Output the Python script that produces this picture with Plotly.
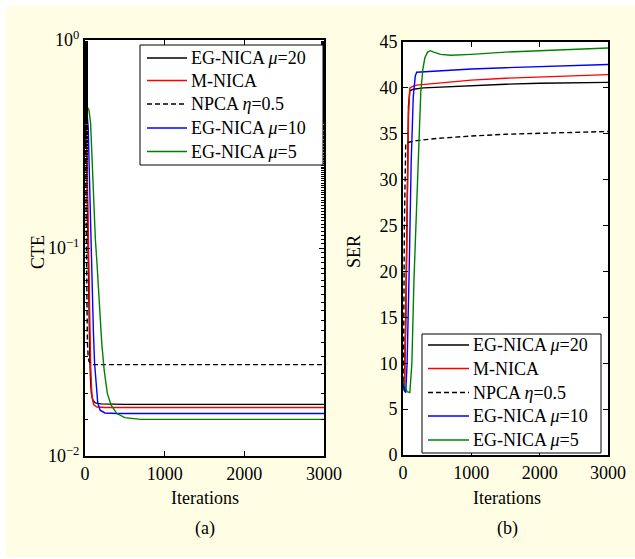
import plotly.graph_objects as go

W, H = 635, 559

names = ["EG-NICA <i>μ</i>=20", "M-NICA", "NPCA <i>η</i>=0.5", "EG-NICA <i>μ</i>=10", "EG-NICA <i>μ</i>=5"]
colors = ["#000000", "#FF0000", "#000000", "#0000FF", "#008000"]
dashes = ["solid", "solid", "5px,3px", "solid", "solid"]

# ---- (a) CTE ----
cte_x_mu20 = [0, 10, 20, 30, 40, 50, 60, 70, 80, 100, 130, 200, 500, 1000, 2000, 3000]
cte_y_mu20 = [0.50, 0.45, 0.30, 0.15, 0.08, 0.045, 0.030, 0.023, 0.020, 0.0185, 0.018, 0.0178, 0.0177, 0.0177, 0.0177, 0.0177]
cte_x_mnica = [0, 10, 20, 30, 40, 50, 60, 70, 80, 90, 110, 150, 250, 1000, 2000, 3000]
cte_y_mnica = [0.50, 0.47, 0.35, 0.20, 0.11, 0.065, 0.040, 0.028, 0.022, 0.019, 0.0176, 0.0172, 0.0171, 0.0171, 0.0171, 0.0171]
cte_x_npca = [0, 5, 10, 15, 20, 25, 30, 40, 50, 70, 100, 3000]
cte_y_npca = [0.50, 0.40, 0.25, 0.13, 0.07, 0.045, 0.035, 0.030, 0.0285, 0.028, 0.0275, 0.0275]
cte_x_mu10 = [0, 20, 40, 60, 75, 90, 105, 120, 140, 160, 190, 250, 400, 3000]
cte_y_mu10 = [0.50, 0.47, 0.38, 0.18, 0.10, 0.060, 0.040, 0.028, 0.021, 0.018, 0.0166, 0.0161, 0.0160, 0.0160]
cte_x_mu5 = [0, 20, 50, 70, 90, 110, 130, 150, 180, 210, 240, 280, 330, 400, 500, 700, 3000]
cte_y_mu5 = [0.50, 0.48, 0.46, 0.40, 0.25, 0.15, 0.11, 0.085, 0.055, 0.035, 0.026, 0.020, 0.0175, 0.016, 0.0153, 0.0150, 0.0150]

# ---- (b) SER ----
ser_x_mu20 = [0, 20, 40, 60, 80, 100, 150, 300, 600, 1000, 1500, 2000, 2500, 3000]
ser_y_mu20 = [8, 7, 15, 30, 38, 39.7, 39.85, 40.0, 40.1, 40.25, 40.4, 40.5, 40.55, 40.6]
ser_x_mnica = [0, 20, 40, 60, 80, 100, 150, 200, 500, 1000, 1500, 2000, 2500, 3000]
ser_y_mnica = [8, 7.5, 14, 28, 37, 40.0, 40.2, 40.3, 40.5, 40.85, 41.05, 41.2, 41.35, 41.45]
ser_x_npca = [0, 10, 20, 30, 40, 60, 100, 200, 500, 1000, 1500, 2000, 2500, 3000]
ser_y_npca = [8, 12, 25, 32, 33.9, 34.0, 34.1, 34.25, 34.5, 34.75, 34.95, 35.05, 35.15, 35.25]
ser_x_mu10 = [0, 20, 40, 60, 90, 120, 150, 180, 200, 300, 600, 1000, 1500, 2000, 2500, 3000]
ser_y_mu10 = [8, 7, 6.8, 10, 20, 32, 39, 41.3, 41.7, 41.75, 41.9, 42.05, 42.2, 42.3, 42.45, 42.55]
ser_x_mu5 = [0, 30, 60, 100, 130, 160, 200, 230, 260, 290, 320, 360, 400, 450, 550, 700, 1000, 1500, 2000, 2500, 3000]
ser_y_mu5 = [8, 7.5, 6.9, 6.8, 10, 19, 28, 35, 39.5, 42, 43.3, 43.9, 44.05, 43.9, 43.65, 43.55, 43.65, 43.9, 44.05, 44.2, 44.35]

cte_series = [(cte_x_mu20, cte_y_mu20), (cte_x_mnica, cte_y_mnica), (cte_x_npca, cte_y_npca),
              (cte_x_mu10, cte_y_mu10), (cte_x_mu5, cte_y_mu5)]
ser_series = [(ser_x_mu20, ser_y_mu20), (ser_x_mnica, ser_y_mnica), (ser_x_npca, ser_y_npca),
              (ser_x_mu10, ser_y_mu10), (ser_x_mu5, ser_y_mu5)]

x_ticks = [0, 1000, 2000, 3000]
cte_tickvals = [0.01, 0.1, 1]
cte_ticktext = ["10<sup>−2</sup>", "10<sup>−1</sup>", "10<sup>0</sup>"]
ser_tickvals = [0, 5, 10, 15, 20, 25, 30, 35, 40, 45]

FONT = "Liberation Serif, Times New Roman, serif"
FS = 18

fig = go.Figure()
for i, (xs, ys) in enumerate(cte_series):
    fig.add_trace(go.Scatter(x=xs, y=ys, mode="lines", name=names[i], xaxis="x", yaxis="y",
                             line=dict(color=colors[i], width=1.4, dash=dashes[i]), showlegend=False))
for i, (xs, ys) in enumerate(ser_series):
    fig.add_trace(go.Scatter(x=xs, y=ys, mode="lines", name=names[i], xaxis="x2", yaxis="y2",
                             line=dict(color=colors[i], width=1.4, dash=dashes[i]), showlegend=False))

def px_x(p):
    return p / W

def px_y(p):
    return 1 - p / H

axis_common = dict(showline=True, linewidth=2, linecolor="black", mirror="ticks",
                   ticks="inside", ticklen=5, tickwidth=1, tickcolor="black",
                   showgrid=False, zeroline=False, automargin=False,
                   tickfont=dict(family=FONT, size=FS, color="black"))

def ann(text, x, y, angle=0, xanchor="center"):
    return dict(text=text, x=px_x(x), y=px_y(y), xref="paper", yref="paper", showarrow=False,
                xanchor=xanchor, yanchor="middle", textangle=angle,
                font=dict(family=FONT, size=FS, color="black"))

shapes = [
    dict(type="rect", xref="paper", yref="paper", x0=0, x1=1, y0=px_y(6), y1=1,
         fillcolor="white", line=dict(width=0), layer="below"),
    dict(type="rect", xref="paper", yref="paper", x0=0, x1=px_x(6), y0=0, y1=1,
         fillcolor="white", line=dict(width=0), layer="below"),
    dict(type="rect", xref="paper", yref="paper", x0=0, x1=1, y0=0, y1=px_y(557),
         fillcolor="white", line=dict(width=0), layer="below"),
]
annotations = [
    ann("CTE", 38, 252, -90),
    ann("SER", 354, 252, -90),
    ann("Iterations", 205, 498),
    ann("Iterations", 507, 498),
    ann("(a)", 205, 528),
    ann("(b)", 507, 528),
]

# legend boxes (drawn as paper shapes + text annotations)
def add_legend(box, rows, line_x0, line_x1, text_x):
    bx0, by0, bx1, by1 = box
    shapes.append(dict(type="rect", xref="paper", yref="paper", x0=px_x(bx0), x1=px_x(bx1),
                       y0=px_y(by1), y1=px_y(by0), fillcolor="white",
                       line=dict(color="black", width=1), layer="above"))
    for i, ry in enumerate(rows):
        shapes.append(dict(type="line", xref="paper", yref="paper", x0=px_x(line_x0), x1=px_x(line_x1),
                           y0=px_y(ry), y1=px_y(ry),
                           line=dict(color=colors[i], width=1.4, dash=dashes[i]), layer="above"))
        annotations.append(ann(names[i], text_x, ry, xanchor="left"))

add_legend((140, 45, 323, 165), [58, 80.5, 104, 128, 151.5], 147, 187, 189)
add_legend((422, 334, 601, 453), [345, 368.5, 392.5, 416, 440], 428, 469, 471)

fig.update_layout(
    width=W, height=H,
    margin=dict(l=0, r=0, t=0, b=0, pad=0),
    paper_bgcolor="#FFFEE4",
    plot_bgcolor="white",
    font=dict(family=FONT, size=FS, color="black"),
    showlegend=False,
    xaxis=dict(domain=[px_x(85), px_x(324)], range=[0, 3000], tickvals=x_ticks, anchor="y", **axis_common),
    yaxis=dict(domain=[px_y(456), px_y(40)], type="log", range=[-2, 0], tickvals=cte_tickvals,
               ticktext=cte_ticktext, anchor="x",
               minor=dict(ticks="inside", ticklen=3, tickcolor="black", tickwidth=1), **axis_common),
    xaxis2=dict(domain=[px_x(403), px_x(608)], range=[0, 3000], tickvals=x_ticks, anchor="y2", **axis_common),
    yaxis2=dict(domain=[px_y(455), px_y(42)], range=[0, 45], tickvals=ser_tickvals, anchor="x2", **axis_common),
    shapes=shapes,
    annotations=annotations,
)

fig.write_html("out.html", config={"displayModeBar": False},
               post_script="document.body.style.margin='0px';document.body.style.overflow='hidden';")
